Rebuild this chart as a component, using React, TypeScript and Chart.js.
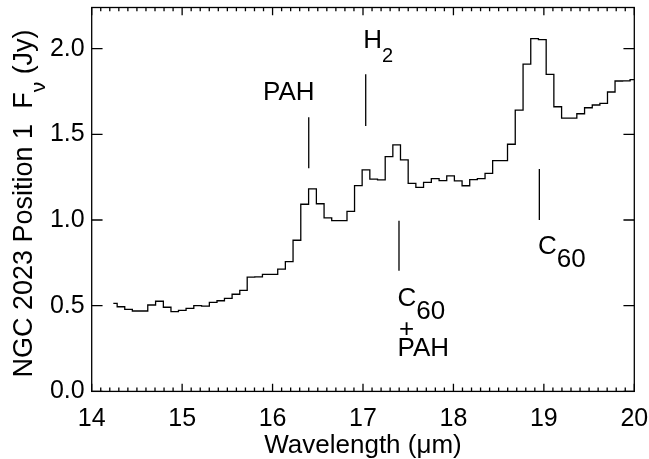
import React, { useEffect, useRef } from 'react';
import { Chart, registerables } from 'chart.js';

Chart.register(...registerables);

// Spectrum: bin-centre wavelengths (μm) and flux density (Jy)
const wavelength = [
  14.239, 14.324, 14.407, 14.492, 14.577, 14.663, 14.750, 14.835, 14.918, 15.001,
  15.086, 15.172, 15.258, 15.344, 15.427, 15.509, 15.596, 15.679, 15.760, 15.846,
  15.930, 16.015, 16.099, 16.184, 16.269, 16.355, 16.442, 16.527, 16.612, 16.696,
  16.781, 16.865, 16.948, 17.033, 17.118, 17.203, 17.288, 17.372, 17.457, 17.542,
  17.627, 17.712, 17.799, 17.884, 17.968, 18.053, 18.138, 18.222, 18.307, 18.392,
  18.475, 18.556, 18.640, 18.727, 18.813, 18.897, 18.983, 19.068, 19.153, 19.239,
  19.322, 19.407, 19.493, 19.577, 19.662, 19.745, 19.829, 19.912, 19.995, 20.080,
];
const flux = [
  0.514, 0.494, 0.479, 0.469, 0.469, 0.504, 0.526, 0.491, 0.465, 0.473,
  0.485, 0.500, 0.497, 0.520, 0.529, 0.543, 0.567, 0.589, 0.667, 0.668,
  0.683, 0.683, 0.714, 0.757, 0.882, 1.092, 1.182, 1.095, 1.012, 0.997,
  0.997, 1.051, 1.201, 1.293, 1.239, 1.234, 1.370, 1.439, 1.351, 1.214,
  1.191, 1.220, 1.241, 1.230, 1.257, 1.228, 1.200, 1.236, 1.241, 1.272,
  1.346, 1.347, 1.442, 1.641, 1.910, 2.058, 2.052, 1.850, 1.661, 1.595,
  1.595, 1.620, 1.655, 1.671, 1.681, 1.747, 1.811, 1.812, 1.819, 1.819,
];

const xTickValues = [14, 15, 16, 17, 18, 19, 20];
const yTickValues = [0, 0.5, 1.0, 1.5, 2.0];
const xRange = [14, 20];
const yRange = [0, 2.24];

const xTitle = 'Wavelength (μm)';
const yTitleParts = [
  { text: 'NGC 2023 Position 1  F' },
  { text: 'ν', sub: true, small: true },
  { text: ' (Jy)' },
];

// Feature markers (data coordinates)
const featureLines = [
  { x: 16.40, y0: 1.302, y1: 1.599 },
  { x: 17.030, y0: 1.548, y1: 1.850 },
  { x: 17.398, y0: 0.704, y1: 0.996 },
  { x: 18.950, y0: 1.000, y1: 1.298 },
];
type Part = { text: string; sub?: boolean; small?: boolean };
const featureLabels: { x: number; y: number; align?: string; parts: Part[] }[] = [
  { x: 15.894, y: 1.700, parts: [{ text: 'PAH' }] },
  { x: 17.003, y: 2.002, parts: [{ text: 'H' }, { text: '2', sub: true, small: true }] },
  { x: 17.382, y: 0.498, parts: [{ text: 'C' }, { text: '60', sub: true }] },
  { x: 17.483, y: 0.320, align: 'center', parts: [{ text: '+' }] },
  { x: 17.382, y: 0.207, parts: [{ text: 'PAH' }] },
  { x: 18.935, y: 0.802, parts: [{ text: 'C' }, { text: '60', sub: true }] },
];

const FONT = "'Liberation Sans', Arial, Helvetica, sans-serif";
const LW = 1.3;

function drawParts(ctx: CanvasRenderingContext2D, x: number, y: number, parts: Part[], size: number, align: string) {
  const subSize = Math.round(size * 0.78);
  const widths = parts.map((p) => {
    ctx.font = `${p.small ? subSize : size}px ${FONT}`;
    return ctx.measureText(p.text).width;
  });
  const total = widths.reduce((a, b) => a + b, 0);
  let cx = align === 'center' ? x - total / 2 : x;
  ctx.textAlign = 'left';
  ctx.textBaseline = 'alphabetic';
  parts.forEach((p, i) => {
    ctx.font = `${p.small ? subSize : size}px ${FONT}`;
    ctx.fillText(p.text, cx, y + (p.sub ? 13.3 : 0));
    cx += widths[i];
  });
}

const decorPlugin = {
  id: 'decor',
  afterDraw(chart: any) {
    const { ctx, chartArea: a, scales } = chart;
    const xs = scales.x;
    const ys = scales.y;
    ctx.save();
    ctx.strokeStyle = '#000';
    ctx.fillStyle = '#000';
    ctx.lineWidth = LW;
    ctx.strokeRect(a.left, a.top, a.right - a.left, a.bottom - a.top);
    ctx.beginPath();
    const majX = 0.02 * (a.bottom - a.top);
    const majY = 0.02 * (a.right - a.left);
    for (let i = xRange[0] * 10; i <= xRange[1] * 10; i++) {
      const v = i / 10;
      const px = xs.getPixelForValue(v);
      const len = i % 10 === 0 ? majX : majX / 2;
      ctx.moveTo(px, a.bottom);
      ctx.lineTo(px, a.bottom - len);
      ctx.moveTo(px, a.top);
      ctx.lineTo(px, a.top + len);
    }
    yTickValues.forEach((v) => {
      const py = ys.getPixelForValue(v);
      ctx.moveTo(a.left, py);
      ctx.lineTo(a.left + majY, py);
      ctx.moveTo(a.right, py);
      ctx.lineTo(a.right - majY, py);
    });
    featureLines.forEach((f) => {
      const px = xs.getPixelForValue(f.x);
      ctx.moveTo(px, ys.getPixelForValue(f.y0));
      ctx.lineTo(px, ys.getPixelForValue(f.y1));
    });
    ctx.stroke();

    featureLabels.forEach((l) => {
      drawParts(ctx, xs.getPixelForValue(l.x), ys.getPixelForValue(l.y), l.parts, 26, l.align || 'left');
    });

    // x title
    drawParts(ctx, (a.left + a.right) / 2, 452.6, [{ text: xTitle }], 26, 'center');
    // y title
    ctx.save();
    ctx.translate(31.5, (a.top + a.bottom) / 2 + 4);
    ctx.rotate(-Math.PI / 2);
    drawParts(ctx, 0, 0, yTitleParts, 27, 'center');
    ctx.restore();
    ctx.restore();
  },
};

export default function App() {
  const ref = useRef<HTMLCanvasElement>(null);
  useEffect(() => {
    if (!ref.current) return;
    const chart = new Chart(ref.current, {
      type: 'line',
      data: {
        datasets: [
          {
            data: wavelength.map((w, i) => ({ x: w, y: flux[i] })),
            stepped: 'middle',
            borderColor: '#000',
            borderWidth: LW,
            pointRadius: 0,
            fill: false,
          },
        ],
      },
      options: {
        animation: false,
        responsive: false,
        devicePixelRatio: 1,
        layout: { padding: { top: 7.5, right: 14.7, left: 0, bottom: 0 } },
        plugins: { legend: { display: false }, tooltip: { enabled: false } },
        scales: {
          x: {
            type: 'linear',
            min: xRange[0],
            max: xRange[1],
            grid: { display: false, drawTicks: false },
            border: { display: false },
            afterBuildTicks: (s: any) => {
              s.ticks = xTickValues.map((v) => ({ value: v }));
            },
            afterFit: (s: any) => {
              s.height = 67.6;
              s.paddingLeft = 0;
              s.paddingRight = 0;
            },
            ticks: {
              padding: 13,
              maxRotation: 0,
              color: '#000',
              font: { family: FONT, size: 25 },
              callback: (v: any) => String(v),
            },
          },
          y: {
            type: 'linear',
            min: yRange[0],
            max: yRange[1],
            grid: { display: false, drawTicks: false },
            border: { display: false },
            afterBuildTicks: (s: any) => {
              s.ticks = yTickValues.map((v) => ({ value: v }));
            },
            afterFit: (s: any) => {
              s.width = 91.7;
              s.paddingTop = 0;
              s.paddingBottom = 0;
            },
            ticks: {
              padding: 7,
              color: '#000',
              font: { family: FONT, size: 25 },
              callback: (v: any) => Number(v).toFixed(1),
            },
          },
        },
      },
      plugins: [decorPlugin],
    });
    return () => chart.destroy();
  }, []);
  return (
    <div style={{ position: 'fixed', left: 0, top: 0, width: 649, height: 459, background: '#fff' }}>
      <canvas ref={ref} width={649} height={459} />
    </div>
  );
}
